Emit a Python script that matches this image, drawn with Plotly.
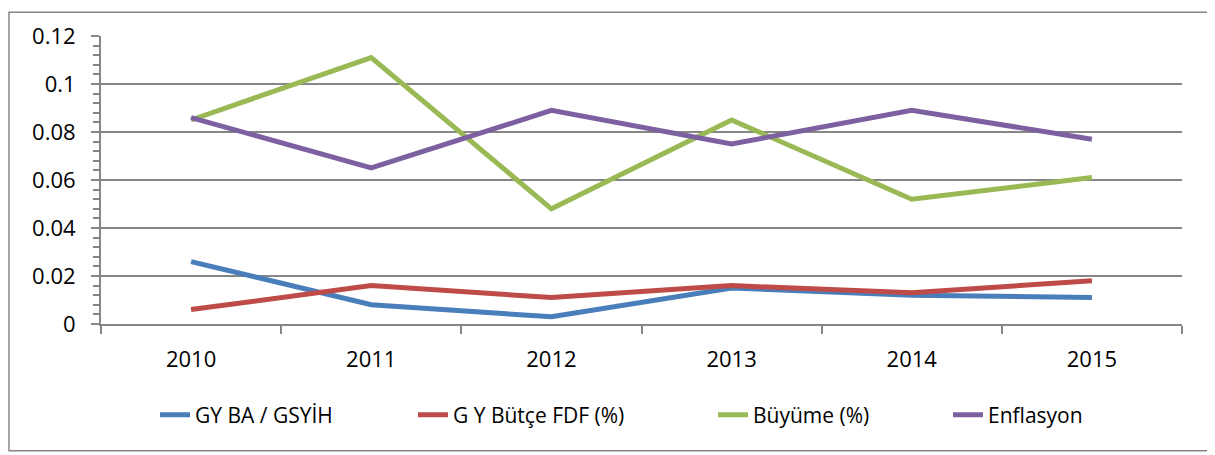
import plotly.graph_objects as go

years = ["2010", "2011", "2012", "2013", "2014", "2015"]
gy_ba = [0.026, 0.008, 0.003, 0.015, 0.012, 0.011]
gy_butce = [0.006, 0.016, 0.011, 0.016, 0.013, 0.018]
buyume = [0.085, 0.111, 0.048, 0.085, 0.052, 0.061]
enflasyon = [0.086, 0.065, 0.089, 0.075, 0.089, 0.077]

names = ["GY BA / GSYİH", "G Y Bütçe FDF (%)", "Büyüme (%)", "Enflasyon"]
colors = ["#4A7EBB", "#BE4B48", "#98B954", "#7D60A0"]
series = [gy_ba, gy_butce, buyume, enflasyon]

# page is offset by the default 8px body margin
W, H = 1207, 447
ml, mr, mt, mb = 93, 33, 25, 131
pw, ph = W - ml - mr, H - mt - mb

def px(x):
    return (x - ml) / pw

def py(y):
    return (H - mb - y) / ph

legend_ids = ["legend", "legend2", "legend3", "legend4"]
legend_left = [147, 405, 705, 940]

fig = go.Figure()
for n, c, s, lid in zip(names, colors, series, legend_ids):
    fig.add_trace(go.Scatter(x=years, y=s, name=n, mode="lines", legend=lid,
                             line=dict(color=c, width=5)))

layout_legends = {}
for lid, lx in zip(legend_ids, legend_left):
    layout_legends[lid] = dict(x=px(lx), xanchor="left", y=py(408), yanchor="middle",
                               font=dict(size=21, family="Open Sans", color="black"),
                               bgcolor="rgba(0,0,0,0)", borderwidth=0)

fig.update_layout(
    width=W, height=H,
    margin=dict(l=ml, r=mr, t=mt, b=mb),
    paper_bgcolor="white", plot_bgcolor="white",
    font=dict(family="Open Sans", color="black"),
    showlegend=True,
    xaxis=dict(type="category", range=[-0.5, 5.5], showgrid=False,
               showline=True, linecolor="#868686", linewidth=2,
               ticks="outside", tickson="boundaries", ticklen=8, tickcolor="#868686",
               tickwidth=2, tickfont=dict(size=22), ticklabelstandoff=15),
    yaxis=dict(range=[0, 0.12], dtick=0.02, showgrid=True, gridcolor="#868686", gridwidth=2,
               showline=True, linecolor="#868686", linewidth=2, zeroline=False,
               ticks="outside", ticklen=8, tickcolor="#868686", tickwidth=2,
               tickfont=dict(size=22), ticklabelstandoff=11,
               minor=dict(dtick=0.004, ticks="outside", ticklen=6, tickcolor="#868686",
                          tickwidth=2, showgrid=False)),
    shapes=[dict(type="rect", xref="paper", yref="paper",
                 x0=px(1), x1=px(1205), y0=py(444), y1=py(1),
                 line=dict(color="#868686", width=1.5), fillcolor="rgba(0,0,0,0)",
                 layer="below")],
    **layout_legends,
)

fig.write_html("out.html")
